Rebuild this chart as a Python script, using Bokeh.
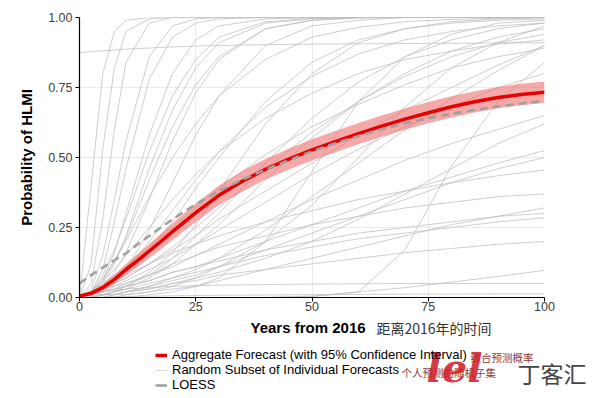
from bokeh.plotting import figure
from bokeh.layouts import column
from bokeh.models import (Legend, LegendItem, Label, Range1d, FixedTicker,
                          NumeralTickFormatter, ColumnDataSource)
from bokeh.embed import file_html
from bokeh.resources import INLINE

# ---------------- data ----------------
AGG_YEARS = [0, 2.5, 5, 7.5, 10, 12.5, 15, 17.5, 20, 25, 30, 35, 40, 45, 50,
             55, 60, 65, 70, 75, 80, 85, 90, 95, 100]
AGG = [0.005, 0.015, 0.035, 0.065, 0.100, 0.132, 0.166, 0.200, 0.235, 0.303,
       0.365, 0.415, 0.458, 0.494, 0.527, 0.557, 0.585, 0.612, 0.637, 0.660,
       0.681, 0.699, 0.714, 0.725, 0.733]
AGG_LO = [0.001, 0.007, 0.023, 0.049, 0.080, 0.109, 0.141, 0.172, 0.205, 0.270,
          0.330, 0.378, 0.421, 0.457, 0.489, 0.519, 0.547, 0.574, 0.599, 0.622,
          0.643, 0.661, 0.676, 0.687, 0.695]
AGG_HI = [0.009, 0.023, 0.047, 0.081, 0.120, 0.155, 0.191, 0.228, 0.265, 0.336,
          0.400, 0.452, 0.495, 0.531, 0.565, 0.595, 0.623, 0.650, 0.675, 0.698,
          0.719, 0.737, 0.752, 0.763, 0.771]
LOESS = [0.050, 0.080, 0.107, 0.133, 0.158, 0.190, 0.220, 0.250, 0.279, 0.333,
         0.380, 0.421, 0.457, 0.490, 0.522, 0.551, 0.577, 0.601, 0.622, 0.640,
         0.656, 0.670, 0.682, 0.693, 0.702]

YEARS = [0, 2.5, 5, 7.5, 10, 15, 20, 25, 30, 40, 50, 60, 70, 80, 90, 100]
INDIVIDUAL = [
    [0, .12, .53, .82, .95, .995, 1, 1, 1, 1, 1, 1, 1, 1, 1, 1],
    [0, .05, .28, .60, .84, .98, 1, 1, 1, 1, 1, 1, 1, 1, 1, 1],
    [0, .03, .15, .35, .56, .86, .97, .995, 1, 1, 1, 1, 1, 1, 1, 1],
    [0, .02, .10, .27, .46, .78, .93, .98, .995, 1, 1, 1, 1, 1, 1, 1],
    [0, .01, .06, .16, .30, .58, .80, .92, .97, .995, 1, 1, 1, 1, 1, 1],
    [0, .02, .08, .17, .28, .52, .72, .85, .93, .985, .997, 1, 1, 1, 1, 1],
    [0, .01, .05, .12, .22, .46, .67, .82, .91, .98, .995, 1, 1, 1, 1, 1],
    [0, .02, .06, .13, .21, .42, .61, .76, .86, .96, .99, .998, 1, 1, 1, 1],
    [0, .01, .04, .09, .16, .35, .56, .73, .85, .96, .99, 1, 1, 1, 1, 1],
    [0, .02, .07, .13, .20, .36, .50, .62, .72, .85, .93, .965, .985, .993, .997, 1],
    [0, 0, .02, .05, .10, .24, .41, .58, .72, .90, .97, .99, 1, 1, 1, 1],
    [0, .01, .03, .06, .09, .17, .27, .39, .50, .70, .84, .92, .96, .98, .99, .995],
    [0, 0, .01, .02, .04, .09, .16, .26, .38, .62, .80, .91, .96, .985, .995, 1],
    [0, .01, .03, .05, .07, .12, .18, .25, .32, .46, .59, .70, .79, .86, .91, .94],
    [0, 0, .01, .02, .03, .07, .12, .19, .26, .42, .57, .70, .80, .88, .93, .96],
    [.875, .878, .881, .884, .887, .891, .895, .898, .900, .903, .905, .906, .907, .908, .909, .910],
    [0, 0, .01, .01, .02, .04, .07, .10, .14, .24, .36, .48, .60, .71, .81, .90],
    [0, .01, .03, .05, .07, .12, .17, .22, .28, .38, .48, .58, .67, .75, .83, .90],
    [0, .02, .05, .08, .11, .18, .25, .32, .39, .51, .61, .69, .76, .82, .86, .89],
    [0, 0, 0, 0, .01, .02, .04, .07, .11, .20, .33, .50, .68, .82, .91, .97],
    [0, 0, 0, 0, 0, 0, 0, 0, 0, 0, .003, .02, .17, .47, .70, .84],
    [0, .01, .02, .04, .06, .10, .14, .19, .24, .34, .44, .53, .61, .68, .75, .80],
    [0, .01, .02, .03, .05, .08, .11, .15, .19, .27, .35, .42, .49, .55, .60, .65],
    [0, 0, .01, .01, .02, .03, .05, .07, .09, .14, .20, .28, .37, .46, .55, .62],
    [0, .005, .01, .02, .04, .08, .14, .22, .30, .48, .64, .77, .86, .92, .96, .98],
    [0, .01, .02, .03, .04, .06, .09, .11, .14, .20, .26, .32, .38, .43, .48, .525],
    [0, 0, .01, .01, .02, .04, .06, .08, .11, .17, .23, .29, .35, .41, .46, .50],
    [0, .02, .04, .06, .08, .12, .16, .19, .22, .27, .31, .35, .38, .41, .435, .455],
    [0, .01, .03, .04, .05, .08, .12, .15, .18, .22, .26, .29, .32, .34, .36, .37],
    [0, 0, 0, .01, .01, .02, .03, .04, .06, .10, .14, .18, .22, .26, .29, .32],
    [0, .01, .02, .03, .04, .06, .09, .11, .13, .17, .20, .23, .25, .27, .29, .30],
    [0, 0, .01, .02, .03, .05, .07, .09, .11, .15, .18, .21, .23, .25, .27, .285],
    [0, 0, .01, .01, .02, .03, .05, .06, .08, .10, .12, .14, .16, .175, .19, .20],
    [0, 0, 0, 0, 0, 0, 0, 0, 0, 0, .005, .02, .035, .055, .075, .097],
    [0, .01, .02, .025, .03, .035, .04, .042, .044, .046, .048, .049, .05, .05, .05, .05],
    [0, .001, .002, .003, .004, .005, .006, .007, .008, .009, .01, .011, .012, .012, .013, .013],
    [0, .40, .80, .95, .99, 1, 1, 1, 1, 1, 1, 1, 1, 1, 1, 1],
    [0, .01, .03, .06, .10, .20, .31, .42, .52, .68, .79, .87, .92, .95, .97, .98],
    [0, .02, .06, .10, .15, .25, .35, .44, .52, .64, .73, .80, .85, .88, .905, .92],
    [0, 0, 0, 0, 0, .01, .02, .04, .07, .20, .45, .70, .86, .94, .98, .99],
]

X_TICKS = [0, 25, 50, 75, 100]
Y_TICKS = [0, 0.25, 0.5, 0.75, 1.0]

LEGEND_LABELS = ["Aggregate Forecast (with 95% Confidence Interval)",
                 "Random Subset of Individual Forecasts",
                 "LOESS"]
LEGEND_NOTES = ["综合预测概率", "个人预测的随机子集"]
X_TITLE = "Years from 2016"
X_TITLE_CN = "距离2016年的时间"
Y_TITLE = "Probability of HLMI"
WATERMARK = "丁客汇"

W = 592
H1 = 316
H2 = 78

# ---------------- main figure ----------------
p = figure(width=W, height=H1, output_backend="svg", toolbar_location=None,
           x_range=Range1d(0, 100), y_range=Range1d(0, 1),
           min_border_left=79, min_border_right=48, min_border_top=17,
           min_border_bottom=19)
p.outline_line_color = None
p.background_fill_color = "white"
p.grid.grid_line_color = "#ebebeb"
p.grid.grid_line_width = 1

for ax in (p.xaxis[0], p.yaxis[0]):
    ax.axis_line_color = "black"
    ax.axis_line_width = 1.2
    ax.major_tick_line_color = "black"
    ax.major_tick_out = 4
    ax.major_tick_in = 0
    ax.minor_tick_line_color = None
    ax.major_label_text_font = "Liberation Sans"
    ax.major_label_text_font_size = "12.5px"
    ax.major_label_text_color = "#404040"
    ax.axis_label_text_font = "Liberation Sans"
    ax.axis_label_text_font_style = "bold"
    ax.axis_label_text_color = "black"

p.xaxis.ticker = FixedTicker(ticks=X_TICKS)
p.yaxis.ticker = FixedTicker(ticks=Y_TICKS)
p.xaxis.formatter = NumeralTickFormatter(format="0")
p.yaxis.formatter = NumeralTickFormatter(format="0.00")
p.yaxis.axis_label = Y_TITLE
p.yaxis.axis_label_text_font_size = "15px"
p.yaxis.axis_label_standoff = 10
p.xaxis.major_label_standoff = 0
p.yaxis.major_label_standoff = 3

for curve in INDIVIDUAL:
    p.line(YEARS, curve, line_color="#bdbdbd", line_width=1, line_alpha=0.75)

src = ColumnDataSource(dict(x=AGG_YEARS, lo=AGG_LO, hi=AGG_HI, agg=AGG,
                            loess=LOESS))
p.varea(x="x", y1="lo", y2="hi", source=src, fill_color="#ee7070", fill_alpha=0.6)
p.line("x", "agg", source=src, line_color="#e60000", line_width=3.5)
p.line("x", "loess", source=src, line_color="#a0a0a0", line_width=2.6,
       line_dash="8 5")

# ---------------- bottom strip: axis title + legend ----------------
q = figure(width=W, height=H2, output_backend="svg", toolbar_location=None,
           x_range=Range1d(0, W), y_range=Range1d(H2, 0),
           x_axis_type=None, y_axis_type=None, min_border=0)
q.outline_line_color = None
q.grid.visible = False

# do not align the strip's frame with the main plot's frame
for fig in (p, q):
    try:
        fig.frame_align = False
    except Exception:
        pass

q.add_layout(Label(x=250, y=11, text=X_TITLE, text_font="Liberation Sans",
                   text_font_size="15px", text_font_style="bold",
                   text_color="black", text_align="left",
                   text_baseline="middle"))
q.add_layout(Label(x=376, y=11, text=X_TITLE_CN, text_font="Noto Sans CJK SC",
                   text_font_size="14px", text_color="#333333",
                   text_baseline="middle"))

leg_agg = q.line([0, 1], [-50, -50], line_color="#e60000", line_width=3.5)
leg_ind = q.line([0, 1], [-50, -50], line_color="#d9d9d9", line_width=1)
leg_loess = q.line([0, 1], [-50, -50], line_color="#a0a0a0", line_width=2.6)

legend = Legend(items=[LegendItem(label=LEGEND_LABELS[0], renderers=[leg_agg]),
                       LegendItem(label=LEGEND_LABELS[1], renderers=[leg_ind]),
                       LegendItem(label=LEGEND_LABELS[2], renderers=[leg_loess])],
                location=(155, H2 - 76), orientation="vertical")
legend.label_text_font = "Liberation Sans"
legend.label_text_font_size = "13px"
legend.label_text_color = "black"
legend.label_height = 14
legend.glyph_height = 14
legend.glyph_width = 12
legend.label_standoff = 5
legend.spacing = 0
legend.padding = 0
legend.margin = 0
legend.border_line_color = None
legend.background_fill_alpha = 0
q.add_layout(legend, "center")

q.add_layout(Label(x=470, y=41, text=LEGEND_NOTES[0], text_font="Noto Sans CJK SC",
                   text_font_size="10.5px", text_color="#8b3a3a",
                   text_baseline="middle"))
q.add_layout(Label(x=401, y=56, text=LEGEND_NOTES[1], text_font="Noto Sans CJK SC",
                   text_font_size="10.5px", text_color="#8b3a3a",
                   text_baseline="middle"))
q.add_layout(Label(x=426, y=51, text="lel", text_font="DejaVu Serif",
                   text_font_size="40px", text_font_style="bold italic",
                   text_color="#d0202a", text_alpha=0.9,
                   text_baseline="middle"))
q.add_layout(Label(x=517, y=56, text=WATERMARK, text_font="Noto Sans CJK SC",
                   text_font_size="23px", text_color="#444444",
                   text_baseline="middle"))

layout = column(p, q, spacing=0)
open("out.html", "w").write(file_html(layout, INLINE))
